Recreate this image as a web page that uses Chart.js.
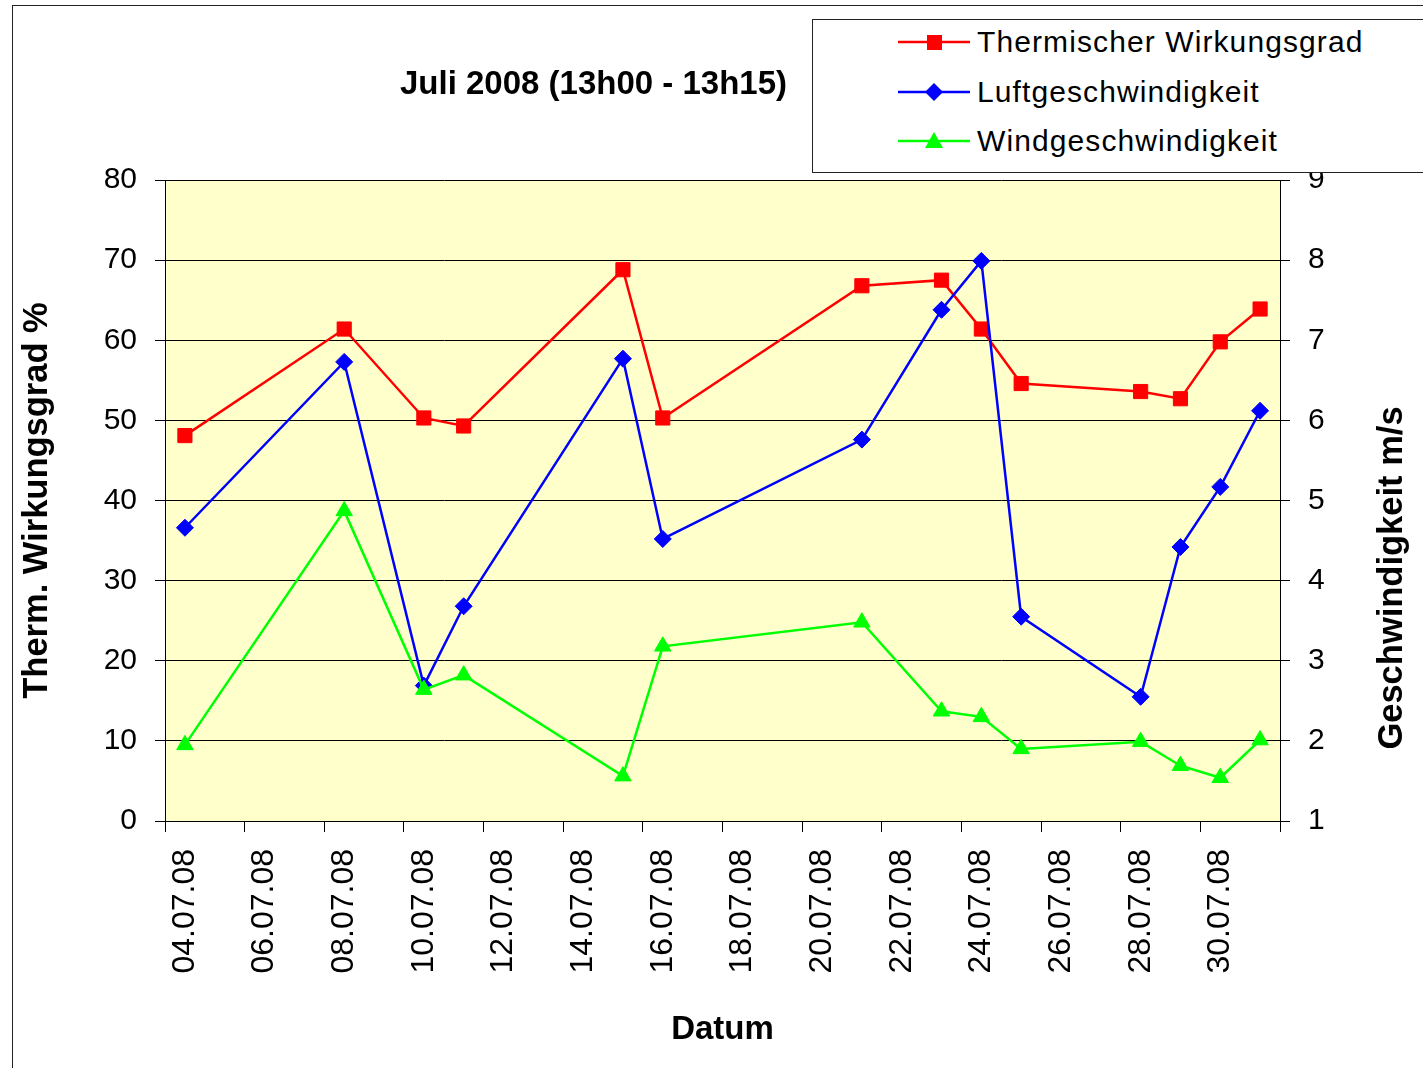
<!DOCTYPE html>
<html>
<head>
<meta charset="utf-8">
<script src="https://cdn.jsdelivr.net/npm/chart.js@4.4.1/dist/chart.umd.min.js"></script>
<style>
  html, body { margin: 0; padding: 0; background: #fff; overflow: hidden; }
  #wrap { position: relative; width: 1423px; height: 1068px; font-family: "Liberation Sans", Arial, sans-serif; color: #000; }
  #frame { position: absolute; left: 12px; top: 5px; width: 1430px; height: 1080px; border-left: 1.5px solid #222; border-top: 1.5px solid #222; }
  #chart { position: absolute; left: 0; top: 0; }
  #title { position: absolute; left: 400px; top: 64px; font-weight: bold; font-size: 33px; line-height: 38px; white-space: nowrap; }
  #legend { position: absolute; left: 812px; top: 19px; width: 640px; height: 152px; border: 1px solid #222; background: #fff; }
  .item { position: absolute; left: 85px; height: 40px; display: flex; align-items: center; }
  .item span { font-size: 30px; letter-spacing: 1.1px; margin-left: 7px; white-space: nowrap; }
</style>
</head>
<body>
<div id="wrap">
  <div id="frame"></div>
  <canvas id="chart" width="1423" height="1068"></canvas>
  <div id="title">Juli 2008 (13h00 - 13h15)</div>
  <div id="legend">
    <div class="item" style="top:2px">
      <svg width="72" height="40"><line x1="0" y1="20" x2="72" y2="20" stroke="#ff0000" stroke-width="2.5"/><rect x="29" y="13" width="15" height="15" fill="#ff0000"/></svg>
      <span>Thermischer Wirkungsgrad</span>
    </div>
    <div class="item" style="top:52px">
      <svg width="72" height="40"><line x1="0" y1="20" x2="72" y2="20" stroke="#0000ff" stroke-width="2.5"/><polygon points="36,11 45,20 36,29 27,20" fill="#0000ff"/></svg>
      <span>Luftgeschwindigkeit</span>
    </div>
    <div class="item" style="top:101px">
      <svg width="72" height="40"><line x1="0" y1="20" x2="72" y2="20" stroke="#00ff00" stroke-width="2.5"/><polygon points="36,11 45,27 27,27" fill="#00ff00"/></svg>
      <span>Windgeschwindigkeit</span>
    </div>
  </div>
</div>
<script>
// measuring dates (July 2008)
const dates = ["04.07.08", "08.07.08", "10.07.08", "11.07.08", "15.07.08", "16.07.08", "21.07.08",
  "23.07.08", "24.07.08", "25.07.08", "28.07.08", "29.07.08", "30.07.08", "31.07.08"];

// left axis, %
const thermWirkungsgrad = [48.1, 61.4, 50.3, 49.3, 68.8, 50.3, 66.8, 67.5, 61.4, 54.6, 53.6, 52.7, 59.8, 63.9];

// right axis, m/s
const luftgeschwindigkeit = [4.66, 6.73, 2.69, 3.68, 6.77, 4.52, 5.76, 7.38, 7.99, 3.55, 2.55, 4.42, 5.17, 6.12];
const windgeschwindigkeit = [1.95, 4.87, 2.64, 2.82, 1.56, 3.18, 3.48, 2.37, 2.30, 1.90, 1.99, 1.69, 1.54, 2.01];

const xTickLabels = ["04.07.08", "06.07.08", "08.07.08", "10.07.08", "12.07.08", "14.07.08", "16.07.08",
  "18.07.08", "20.07.08", "22.07.08", "24.07.08", "26.07.08", "28.07.08", "30.07.08"];

const FONT = "'Liberation Sans', Arial, sans-serif";

function dayOf(label) {
  return parseInt(label.slice(0, 2), 10);
}

function points(values) {
  return dates.map((d, i) => ({ x: dayOf(d), y: values[i] }));
}

// ticks sit on day boundaries, labels are shifted to the day centre
const xTickValues = xTickLabels.map(l => dayOf(l) - 0.5).concat([31.5]);

const plotBackground = {
  id: "plotBackground",
  beforeDraw(chart) {
    const a = chart.chartArea;
    const ctx = chart.ctx;
    ctx.save();
    ctx.fillStyle = "#ffffcc";
    ctx.fillRect(a.left, a.top, a.right - a.left, a.bottom - a.top);
    ctx.restore();
  }
};

const rightTitle = {
  id: "rightTitle",
  afterDraw(chart) {
    const ctx = chart.ctx;
    ctx.save();
    ctx.translate(1392, 578);
    ctx.rotate(-Math.PI / 2);
    ctx.font = "bold 34.5px " + FONT;
    ctx.fillStyle = "#000";
    ctx.textAlign = "center";
    ctx.textBaseline = "middle";
    ctx.fillText("Geschwindigkeit m/s", 0, 0);
    ctx.restore();
  }
};

Chart.defaults.font.family = FONT;
Chart.defaults.color = "#000";

new Chart(document.getElementById("chart"), {
  type: "line",
  data: {
    datasets: [
      {
        label: "Thermischer Wirkungsgrad",
        data: points(thermWirkungsgrad),
        yAxisID: "y",
        borderColor: "#ff0000",
        backgroundColor: "#ff0000",
        borderWidth: 2.5,
        pointStyle: "rect",
        pointRadius: 10,
        pointBorderWidth: 1,
        order: 3
      },
      {
        label: "Luftgeschwindigkeit",
        data: points(luftgeschwindigkeit),
        yAxisID: "y2",
        borderColor: "#0000ff",
        backgroundColor: "#0000ff",
        borderWidth: 2.5,
        pointStyle: "rectRot",
        pointRadius: 8.5,
        pointBorderWidth: 1,
        order: 2
      },
      {
        label: "Windgeschwindigkeit",
        data: points(windgeschwindigkeit),
        yAxisID: "y2",
        borderColor: "#00ff00",
        backgroundColor: "#00ff00",
        borderWidth: 2.5,
        pointStyle: "triangle",
        pointRadius: 9.5,
        pointBorderWidth: 1,
        order: 1
      }
    ]
  },
  options: {
    responsive: false,
    animation: false,
    layout: { padding: { top: 180, left: 0, right: 0, bottom: 0 } },
    plugins: {
      legend: { display: false },
      tooltip: { enabled: false }
    },
    scales: {
      x: {
        type: "linear",
        position: "bottom",
        min: 3.5,
        max: 31.5,
        afterBuildTicks: scale => {
          scale.ticks = xTickValues.map(v => ({ value: v }));
        },
        afterFit: scale => { scale.height = 247; },
        ticks: {
          autoSkip: false,
          minRotation: 90,
          maxRotation: 90,
          labelOffset: 20,
          padding: 17,
          font: { size: 32 },
          callback: (value, i) => xTickLabels[i] || ""
        },
        grid: { drawOnChartArea: false, drawTicks: true, tickLength: 11, color: "#000", lineWidth: 1 },
        border: { display: true, color: "#000", width: 1 },
        title: {
          display: true,
          text: "Datum",
          font: { size: 33, weight: "bold" },
          padding: { top: 0, bottom: 18 }
        }
      },
      y: {
        position: "left",
        min: 0,
        max: 80,
        afterFit: scale => { scale.width = 165; },
        ticks: { stepSize: 10, padding: 18, font: { size: 30 } },
        grid: { color: "#000", lineWidth: 1, tickLength: 10 },
        border: { display: true, color: "#000", width: 1 },
        title: {
          display: true,
          text: "Therm. Wirkungsgrad %",
          font: { size: 34.5, weight: "bold" },
          padding: { top: 17, bottom: 0 }
        }
      },
      y2: {
        position: "right",
        min: 1,
        max: 9,
        afterFit: scale => { scale.width = 143; },
        ticks: { stepSize: 1, padding: 18, font: { size: 30 } },
        grid: { drawOnChartArea: false, color: "#000", lineWidth: 1, tickLength: 10 },
        border: { display: true, color: "#000", width: 1 }
      }
    }
  },
  plugins: [plotBackground, rightTitle]
});
</script>
</body>
</html>
